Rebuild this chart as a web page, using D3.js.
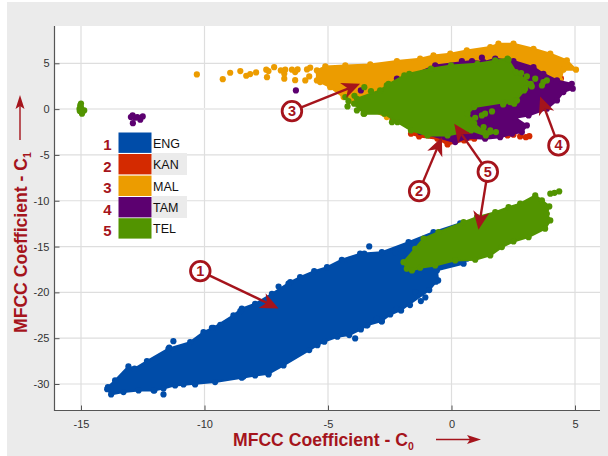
<!DOCTYPE html>
<html>
<head>
<meta charset="utf-8">
<script src="https://cdn.jsdelivr.net/npm/d3@7"></script>
<style>
html, body { margin: 0; padding: 0; background: #fff; }
text { font-family: "Liberation Sans", Arial, sans-serif; }
</style>
</head>
<body>
<div id="chart"></div>
<script>
let categories = ['ENG', 'KAN', 'MAL', 'TAM', 'TEL']
let seriesColors = ['#004ca8', '#d42a00', '#ec9c00', '#5c0070', '#529400']
let xTicks = [-15, -10, -5, 0, 5]
let yTicks = [-30, -25, -20, -15, -10, -5, 0, 5]

// dense clouds: outline of each cloud [C0, C1]
let engEdge = [[-13.94,-30.56],[-13.91,-30.34],[-13.62,-29.61],[-13.08,-28.08],[-12.83,-28.33],[-12.33,-27.5],[-11.46,-26.15],[-10.58,-25.43],[-10.04,-24.34],[-9.64,-23.86],[-8.83,-22.51],[-8.49,-21.78],[-7.95,-21.24],[-7.27,-20.15],[-6.53,-18.88],[-6.13,-18.33],[-5.56,-17.68],[-5.04,-17.24],[-4.44,-16.44],[-3.7,-15.78],[-2.82,-15.61],[-1.74,-14.51],[-0.73,-13.42],[0.35,-12.47],[0.62,-16.33],[0.49,-16.87],[-0.59,-17.6],[-0.54,-18.69],[-0.63,-18.84],[-0.9,-19.75],[-2.05,-21.94],[-2.48,-22.41],[-2.83,-23.14],[-3.4,-23.57],[-3.67,-24.04],[-4.14,-24.66],[-4.62,-24.84],[-5.15,-25.38],[-5.43,-25.76],[-5.76,-26.3],[-6.8,-27.97],[-7.41,-28.88],[-7.95,-29.06],[-8.49,-29.31],[-9.57,-29.79],[-10.38,-29.97],[-11.19,-30.15],[-11.66,-30.48],[-12.06,-30.7],[-12.67,-30.7],[-13.28,-30.88],[-13.78,-31.14]]
let kanEdge = [[-1.64,-2.69],[-1.31,-2.98],[-0.57,-3.23],[-0.16,-3.85],[0.51,-3.42],[0.92,-3.23],[1.5,-1],[-1,-0.5]]
let malEdge = [[-5.45,3.13],[-5.45,4.22],[-5.11,4.66],[-4.3,4.77],[-3.29,4.88],[-2.21,5.24],[-1.27,5.5],[-0.73,5.86],[-0.05,6.05],[0.62,6.41],[1.57,6.77],[1.9,7.14],[2.51,7.14],[3.32,6.59],[4,6.05],[4.67,5.31],[5.04,4.3],[4.53,4.3],[4.4,3.13],[3.86,3.49],[1,1],[-2.62,-0.87],[-3.97,0.76],[-4.37,1.31],[-4.91,2.4],[-5.32,2.95]]
let tamEdge = [[-0.66,4.77],[0.83,5.24],[1.3,5.13],[1.77,5.5],[2.51,5.24],[3.32,4.58],[3.72,3.86],[4.27,3.13],[4.87,2.77],[4.91,2.23],[4.53,1.86],[4.27,0.95],[3.86,0.04],[3.12,-0.69],[2.58,-0.94],[3.05,-1.78],[2.85,-2.51],[2.45,-2.69],[1.97,-3.06],[1.36,-3.23],[0.62,-3.12],[0.15,-3.6],[-1.27,-2.51],[-2.08,3.13]]
let telEdgeUpper = [[-3.83,1.13],[-2.89,2.04],[-2.62,2.59],[-1.91,3.68],[-1.71,3.86],[-0.83,4.41],[-0.02,4.77],[1.05,4.95],[2.27,5.5],[2.61,4.04],[3.21,2.77],[2.94,2.04],[2.61,0.95],[2.54,0.59],[2.13,0.76],[0.92,0.22],[0.65,-0.5],[0.92,-1.59],[1.32,-2.51],[1.8,-2.51],[1.39,-2.87],[0.79,-2.32],[-0.16,-2.87],[-0.97,-2.87],[-1.64,-2.32],[-2.19,-1.42],[-2.72,-0.5],[-3.53,-0.5],[-3.94,0.59]]
let telEdgeLower = [[-1.81,-17.42],[-1.94,-16.7],[-1.47,-15.24],[-1.13,-14.14],[-0.53,-13.42],[0.49,-12.33],[1.03,-11.79],[1.77,-11.24],[2.31,-10.7],[2.78,-10.32],[3.39,-9.42],[3.66,-9.96],[3.96,-10.62],[3.86,-11.42],[4,-12.15],[3.79,-13.05],[3.12,-13.97],[2.51,-14.44],[2.04,-15.06],[1.57,-15.97],[0.96,-16.44],[0.15,-16.51],[-0.66,-17.06],[-1.27,-17.31],[-1.6,-17.6]]

// separate points around the clouds
let engDots = [[-11.26,-25.32],[-11.66,-31.14],[-7,-19.37],[-3.33,-14.99],[-1.06,-20.55],[-1.24,-20.95],[-1.68,-21.39],[-3.9,-25.02],[-11.43,-26.04],[-9.7,-23.86],[-9.36,-23.53],[-8.55,-22.05],[-8.42,-29.17],[-7.41,-28.96],[-10.38,-30.04],[-10.85,-30.04],[-12.03,-30.7],[-6.6,-19.05],[-4.14,-16.44],[-3.53,-15.78],[-2.28,-15.61],[-3.43,-23.61],[-3.02,-22.87],[-2.82,-23.17],[-2.21,-21.78],[-2.04,-21.97],[-1.47,-19.97]]
let kanDots = [[2.27,-2.87],[2.51,-2.8],[2.78,-2.98],[3.01,-3.06],[3.15,-2.95],[2.4,-0.69],[4.43,3.35],[4.53,4.77],[-2.39,-1.05]]
let malDots = [[-10.31,3.79],[-9.26,3.27],[-8.96,3.97],[-8.55,4.15],[-8.31,3.64],[-8.15,3.82],[-7.91,4],[-7.5,4.3],[-7.41,4.15],[-7.47,3.49],[-7.18,4.58],[-6.91,4.22],[-6.73,4.3],[-6.77,3.86],[-6.77,3.32],[-6.46,4.3],[-6.23,4.33],[-6.33,4.04],[-6.33,3.16],[-5.85,4.33],[-5.72,4.52],[-5.76,3.57],[-5.92,3.13]]
let tamDots = [[-12.91,-0.69],[-12.98,-0.87],[-12.81,-0.94],[-12.6,-1.16],[-12.5,-0.8],[-12.9,-1.53],[-12.72,-0.87],[-6.3,2.04],[-3.67,2.04],[-2.21,3.32],[0.42,5.24],[1.23,5.61]]
let telDots = [[-15.03,0.4],[-15.06,0.04],[-14.96,-0.5],[-14.87,-0.14],[-15,0.2],[-15.05,-0.2],[-15,0.6],[-14.95,-0.3],[4,-9.23],[4.17,-9.13],[4.36,-8.98],[-4.3,1.31],[-4.17,0.87],[-4.21,0.29],[-3.83,-0.14],[-3.93,1.46],[-3.53,2.4],[-3.26,1.96],[-3.56,-0.5],[-2.41,-1.42],[-2.55,2.77],[1.64,-0.25],[1.36,-0.5],[1.23,-0.69],[1.3,-1.96],[1.57,-2.32],[2.82,3.93],[3.05,3.57],[3.39,3.32],[3.72,2.95],[3.86,3.13],[3.66,2.59],[2.31,5.39],[1.77,5.32],[2.65,0.95],[2.38,0.76],[2.09,0.51],[3.25,2.48],[2.98,2.23],[0.83,-1.23],[0.96,-0.94]]

// draw order follows the legend, TEL ends up on top
let clouds = [
	{ color: 0, edges: [engEdge], dots: engDots },
	{ color: 1, edges: [kanEdge], dots: kanDots },
	{ color: 2, edges: [malEdge], dots: malDots },
	{ color: 3, edges: [tamEdge], dots: tamDots },
	{ color: 4, edges: [telEdgeUpper, telEdgeLower], dots: telDots },
]

// callouts: number, circle position, arrow tips
let callouts = [
	{ label: '1', at: [-10.17, -17.68], tips: [[-7, -21.75]] },
	{ label: '2', at: [-1.31, -8.95], tips: [[-0.39, -3.06]] },
	{ label: '3', at: [-6.46, -0.22], tips: [[-3.7, 2.77]] },
	{ label: '4', at: [4.33, -3.96], tips: [[3.59, 1.39]] },
	{ label: '5', at: [1.47, -6.83], tips: [[0.11, -1.59], [1.09, -13.16]] },
]

let w = 608
let h = 456
let red = '#a5141c'
let dotR = 3.1

let svg = d3.select('#chart').append('svg').attr('width', w).attr('height', h).style('display', 'block')

let x = d3.scaleLinear().domain([-16, 6]).range([56.3, 599.7])
let y = d3.scaleLinear().domain([-33, 9]).range([411.5, 26.65])

svg.append('rect').attr('x', 7).attr('y', 2).attr('width', w - 7).attr('height', h - 2).attr('fill', '#ebebeb')
svg.append('rect').attr('x', 54).attr('y', 26).attr('width', 546).attr('height', 385).attr('fill', '#fff')

// grid
svg.append('g').selectAll('line').data(xTicks).join('line')
	.attr('x1', d => x(d)).attr('x2', d => x(d)).attr('y1', 26).attr('y2', 410)
	.attr('stroke', '#dedede').attr('stroke-width', 1.2)
svg.append('g').selectAll('line').data(yTicks).join('line')
	.attr('x1', 54).attr('x2', 600).attr('y1', d => y(d)).attr('y2', d => y(d))
	.attr('stroke', d => (d === 0 ? '#ececec' : '#dedede')).attr('stroke-width', d => (d === 0 ? 2 : 1.2))

// clouds
let line = d3.line().x(d => x(d[0])).y(d => y(d[1]))
clouds.forEach(c => {
	let g = svg.append('g').attr('fill', seriesColors[c.color])
	c.edges.forEach(e => {
		g.append('path').attr('d', line(e) + 'Z').attr('stroke', seriesColors[c.color]).attr('stroke-width', 2)
		g.append('g').selectAll('circle').data(e).join('circle')
			.attr('cx', d => x(d[0])).attr('cy', d => y(d[1])).attr('r', dotR)
	})
	g.append('g').selectAll('circle').data(c.dots).join('circle')
		.attr('cx', d => x(d[0])).attr('cy', d => y(d[1])).attr('r', dotR)
})

// axes
let xAxis = svg.append('g').attr('transform', 'translate(0,410.5)')
	.call(d3.axisBottom(x).tickValues(xTicks).tickSize(-5).tickPadding(10).tickFormat(d => String(d)))
let yAxis = svg.append('g').attr('transform', 'translate(54.5,0)')
	.call(d3.axisLeft(y).tickValues(yTicks).tickSize(-5).tickPadding(5).tickFormat(d => String(d)))
;[xAxis, yAxis].forEach(a => {
	a.selectAll('path').attr('stroke', '#555').attr('stroke-width', 1.2)
	a.selectAll('line').attr('stroke', '#555')
	a.selectAll('text').attr('fill', '#333').attr('font-size', 11).style('font-family', '"Liberation Sans", Arial, sans-serif')
})
// the picture has no right/top spine, axis runs to the plot edge
xAxis.select('path').attr('d', 'M54,0H600')
yAxis.select('path').attr('d', 'M0,26V411')

// legend
let legendTop = [132.5, 154, 175.6, 197, 218.2]
svg.append('g').selectAll('rect').data([1, 3]).join('rect')
	.attr('x', 152).attr('y', d => legendTop[d] - 1).attr('width', 35).attr('height', 22).attr('fill', '#ebebeb')
let legend = svg.append('g').selectAll('g').data(categories).join('g')
	.attr('transform', (d, i) => `translate(0,${legendTop[i]})`)
legend.append('rect').attr('x', 118.5).attr('y', 0).attr('width', 33).attr('height', 20.4)
	.attr('fill', (d, i) => seriesColors[i])
legend.append('text').attr('x', 153).attr('y', 15).attr('font-size', 12.5).attr('fill', '#111').text(d => d)
legend.append('text').attr('x', 107.5).attr('y', 17.5).attr('text-anchor', 'middle').attr('font-size', 15)
	.attr('font-weight', 'bold').attr('fill', red).text((d, i) => i + 1)

// arrows with swept-back heads
let arrowHead = (tip, from) => {
	let a = Math.atan2(from[1] - tip[1], from[0] - tip[0])
	let p = (r, t) => [tip[0] + r * Math.cos(a + t), tip[1] + r * Math.sin(a + t)]
	return [tip, p(20, 0.42), p(13, 0), p(20, -0.42)]
}
let ann = svg.append('g')
callouts.forEach(c => {
	let from = [x(c.at[0]), y(c.at[1])]
	c.tips.forEach(t => {
		let tip = [x(t[0]), y(t[1])]
		let head = arrowHead(tip, from)
		ann.append('line').attr('x1', from[0]).attr('y1', from[1]).attr('x2', head[2][0]).attr('y2', head[2][1])
			.attr('stroke', red).attr('stroke-width', 2.4)
		ann.append('path').attr('d', d3.line()(head) + 'Z').attr('fill', red)
	})
})
callouts.forEach(c => {
	let from = [x(c.at[0]), y(c.at[1])]
	ann.append('circle').attr('cx', from[0]).attr('cy', from[1]).attr('r', 9.8)
		.attr('fill', '#fff').attr('stroke', red).attr('stroke-width', 2.8)
	ann.append('text').attr('x', from[0]).attr('y', from[1] + 5).attr('text-anchor', 'middle')
		.attr('font-size', 14.5).attr('font-weight', 'bold').attr('fill', red).text(c.label)
})

// axis titles
let xTitle = svg.append('text').attr('x', 233).attr('y', 446).attr('font-size', 17.6).attr('font-weight', 'bold').attr('fill', red)
xTitle.append('tspan').text('MFCC Coefficient - C')
xTitle.append('tspan').attr('font-size', 10.5).attr('dy', 4).text('0')
let yTitle = svg.append('text').attr('transform', 'translate(27,333) rotate(-90)').attr('font-size', 17.6).attr('font-weight', 'bold').attr('fill', red)
yTitle.append('tspan').text('MFCC Coefficient - C')
yTitle.append('tspan').attr('font-size', 10.5).attr('dy', 4).text('1')

svg.append('line').attr('x1', 436).attr('x2', 472).attr('y1', 439.5).attr('y2', 439.5).attr('stroke', red).attr('stroke-width', 1.4)
svg.append('path').attr('d', 'M481,439.5L467,435L470,439.5L467,444Z').attr('fill', red)
svg.append('line').attr('x1', 20).attr('x2', 20).attr('y1', 140).attr('y2', 104).attr('stroke', red).attr('stroke-width', 1.4)
svg.append('path').attr('d', 'M20,95L15.5,109L20,106L24.5,109Z').attr('fill', red)
</script>
</body>
</html>
